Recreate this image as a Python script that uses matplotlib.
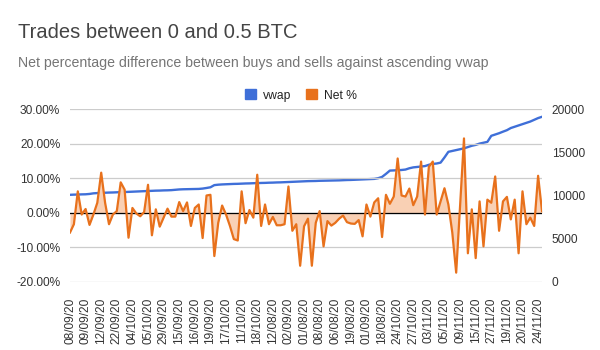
import numpy as np
import matplotlib
matplotlib.use("Agg")
import matplotlib.pyplot as plt
import matplotlib.ticker as ticker
from matplotlib.patches import Patch

plt.rcParams['font.family'] = ['Liberation Sans', 'DejaVu Sans']
plt.rcParams['axes.unicode_minus'] = False

# net % difference between buys and sells (sorted by ascending vwap)
net_pct = [
    -5.7, -3.3, 6.2, -0.5, 1.1, -3.5, -0.5, 2.9, 11.6, 2.9,
    -3.3, -0.5, 0.5, 8.8, 6.7, -7.2, 1.4, -0.2, -1.0, 0.2,
    8.1, -6.5, 1.0, -4.0, -1.4, 1.2, -1.1, -1.1, 3.1, 0.5,
    3.0, -3.8, 1.4, 2.4, -7.3, 5.0, 5.2, -12.5, -2.9, 2.1,
    -0.5, -3.8, -7.6, -8.0, 6.2, -3.0, 0.8, -1.4, 11.0, -3.8,
    2.4, -3.3, -1.2, -3.6, -3.6, -3.3, 7.6, -5.2, -3.3, -15.3,
    -3.9, -1.7, -15.3, -2.9, 0.5, -9.7, -2.4, -3.7, -2.9, -1.7,
    -0.8, -2.7, -3.1, -3.2, -2.1, -6.8, 2.4, -1.1, 3.0, 4.2,
    -7.0, 5.2, 2.6, 4.7, 15.7, 5.0, 4.7, 7.0, 2.2, 4.7,
    14.8, -0.5, 13.3, 14.8, -0.5, 3.3, 7.1, 2.4, -5.7, -17.3,
    2.0, 21.5, -11.7, 1.0, -13.1, 3.3, -9.7, 3.8, 2.9, 10.5,
    -5.2, 3.3, 4.6, -1.9, 3.8, -11.7, 6.2, -3.3, -1.4, -3.8,
    10.7, 0.5,
]

vwap = [
    10080, 10100, 10110, 10130, 10140, 10180, 10250, 10280, 10300, 10320,
    10340, 10350, 10370, 10390, 10400, 10420, 10440, 10460, 10480, 10500,
    10520, 10540, 10560, 10570, 10590, 10600, 10620, 10660, 10700, 10720,
    10730, 10740, 10750, 10760, 10800, 10870, 10950, 11200, 11250, 11280,
    11300, 11320, 11340, 11350, 11370, 11390, 11400, 11420, 11430, 11450,
    11460, 11480, 11490, 11510, 11520, 11540, 11560, 11580, 11600, 11620,
    11640, 11660, 11670, 11680, 11700, 11710, 11720, 11730, 11740, 11750,
    11770, 11790, 11800, 11820, 11840, 11860, 11880, 11900, 11920, 12000,
    12150, 12500, 12880, 12900, 12920, 12950, 13000, 13150, 13250, 13300,
    13350, 13400, 13550, 13650, 13700, 13800, 14400, 15050, 15150, 15250,
    15350, 15450, 15600, 15750, 15850, 16000, 16100, 16200, 16900, 17050,
    17200, 17380, 17550, 17800, 17950, 18100, 18250, 18400, 18550, 18750,
    18950, 19100,
]

# every 4th date shown on the axis
tick_labels = [
    '08/09/20', '09/09/20', '12/09/20', '22/09/20', '04/10/20', '05/10/20',
    '29/09/20', '15/09/20', '16/09/20', '19/09/20', '17/10/20', '11/10/20',
    '18/10/20', '12/08/20', '02/09/20', '01/08/20', '08/08/20', '06/08/20',
    '19/08/20', '01/09/20', '18/08/20', '24/10/20', '27/10/20', '03/11/20',
    '05/11/20', '09/11/20', '15/11/20', '27/11/20', '19/11/20', '20/11/20',
    '24/11/20',
]

blue = '#3f6fd8'
orange = '#e8711c'
fill = '#f9d0b4'
label_col = '#333333'

x = np.arange(len(net_pct))

fig = plt.figure(figsize=(6, 3.5), dpi=100)
ax = fig.add_axes([70 / 600, 68 / 350, 472 / 600, 173 / 350])
ax2 = ax.twinx()

ax.fill_between(x, net_pct, 0, color=fill, lw=0)
ax.plot(x, net_pct, color=orange, lw=1.6, solid_joinstyle='round')
ax.axhline(0, color='black', lw=0.9, zorder=1.5)

ax2.plot(x, vwap, color=blue, lw=1.7)

# draw net % above the vwap line
ax.set_zorder(ax2.get_zorder() + 1)
ax.patch.set_visible(False)

ax.set_xlim(0, len(net_pct) - 1)
ax.set_ylim(-20, 30)
ax.yaxis.set_major_locator(ticker.MultipleLocator(10))
ax.yaxis.set_major_formatter(ticker.PercentFormatter(xmax=100, decimals=2))
ax.grid(axis='y', color='#cccccc', lw=0.9)
ax.set_axisbelow(True)

ax2.set_ylim(0, 20000)
ax2.yaxis.set_major_locator(ticker.MultipleLocator(5000))

ax.set_xticks(x[::4])
ax.set_xticklabels(tick_labels, rotation=90)

for a in (ax, ax2):
    for s in a.spines.values():
        s.set_visible(False)
    a.tick_params(length=0, labelsize=8.6, colors=label_col)
ax.tick_params(axis='y', pad=7)
ax.tick_params(axis='x', pad=11)
ax2.tick_params(axis='y', pad=7)

fig.text(18 / 600, 1 - 32.5 / 350, 'Trades between 0 and 0.5 BTC', fontsize=14.5,
         color='#444444', va='center', ha='left')
fig.text(18 / 600, 1 - 63 / 350,
         'Net percentage difference between buys and sells against ascending vwap',
         fontsize=10.2, color='#757575', va='center', ha='left')

handles = [Patch(color=blue, label='vwap'), Patch(color=orange, label='Net %')]
fig.legend(handles=handles, loc='center', bbox_to_anchor=(301 / 600, 1 - 95.5 / 350),
           ncol=2, frameon=False, fontsize=8.7, handlelength=0.9, handleheight=0.9,
           handletextpad=0.6, columnspacing=1.2, labelcolor='#222222')

fig.savefig('out.png', dpi=100)
